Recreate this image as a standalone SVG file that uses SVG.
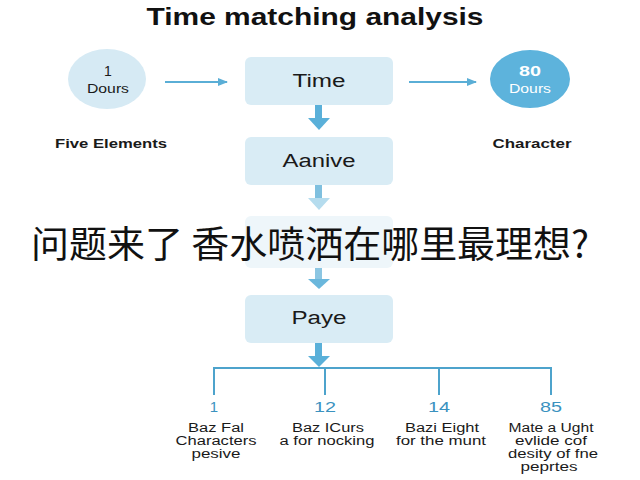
<svg xmlns="http://www.w3.org/2000/svg" width="640" height="480" viewBox="0 0 640 480">
<defs>
<style>
.box{fill:#d9ecf5;}
.lbl{font-family:"Liberation Sans",Arial,sans-serif;fill:#1a1a1a;text-anchor:middle;}
.num{font-family:"Liberation Sans",Arial,sans-serif;fill:#3a92bf;text-anchor:middle;font-size:15px;}
.desc{font-family:"Liberation Sans",Arial,sans-serif;fill:#1a1a1a;text-anchor:middle;font-size:12px;}
.line{stroke:#5aaed6;stroke-width:2;fill:none;}
.tree{stroke:#4da3cc;stroke-width:2;fill:none;}
.bar{fill:#5ab0d9;}
</style>
<marker id="ah" viewBox="0 0 10 10" refX="9" refY="5" markerWidth="5" markerHeight="5" orient="auto">
<path d="M0,1 L10,5 L0,9 z" fill="#5aaed6"/>
</marker>
</defs>
<rect width="640" height="480" fill="#ffffff"/>
<text x="315" y="25" class="lbl" font-size="24" font-weight="bold" style="fill:#111" textLength="337" lengthAdjust="spacingAndGlyphs">Time matching analysis</text>

<g id="connectors">
<line class="line" x1="165" y1="82" x2="227" y2="82" marker-end="url(#ah)"/>
<line class="line" x1="409" y1="82" x2="476" y2="82" marker-end="url(#ah)"/>
<rect class="bar" x="315" y="105" width="7" height="14"/>
<path d="M308,118 L330,118 L319,130 z" fill="#5ab0d9"/>
<rect x="315" y="185" width="7" height="13" fill="#7fc0df"/>
<path d="M308,198 L330,198 L319,210 z" fill="#b5dcee"/>
<rect x="315" y="268" width="7" height="12" fill="#8cc6e2"/>
<path d="M308,279 L330,279 L319,289 z" fill="#6ab7dc"/>
<rect class="bar" x="315" y="343" width="7" height="14"/>
<path d="M308,356 L330,356 L319,367 z" fill="#5ab0d9"/>
<path class="tree" d="M214,395 V368 H551 V395 M325,368 V395 M439,368 V395"/>
</g>

<g id="n-one">
<ellipse cx="107" cy="79" rx="39" ry="30" fill="#d6eaf4"/>
<text x="108" y="76" class="lbl" font-size="14">1</text>
<text x="108" y="93" class="lbl" font-size="12" textLength="42" lengthAdjust="spacingAndGlyphs">Dours</text>
</g>
<g id="n-eighty">
<ellipse cx="530" cy="79" rx="40" ry="29" fill="#5db3dc"/>
<text x="530" y="76" class="lbl" font-size="14" font-weight="bold" style="fill:#ffffff" textLength="22" lengthAdjust="spacingAndGlyphs">80</text>
<text x="530" y="93" class="lbl" font-size="12" style="fill:#ffffff" textLength="42" lengthAdjust="spacingAndGlyphs">Dours</text>
</g>
<g id="n-time">
<rect class="box" x="245" y="57" width="148" height="48" rx="6"/>
<text x="319" y="87" class="lbl" font-size="18" textLength="53" lengthAdjust="spacingAndGlyphs">Time</text>
</g>
<g id="l-five">
<text x="111" y="148" class="lbl" font-size="12" font-weight="bold" textLength="112" lengthAdjust="spacingAndGlyphs">Five Elements</text>
</g>
<g id="l-char">
<text x="532" y="148" class="lbl" font-size="12" font-weight="bold" textLength="79" lengthAdjust="spacingAndGlyphs">Character</text>
</g>
<g id="n-aanive">
<rect class="box" x="245" y="137" width="148" height="48" rx="6"/>
<text x="319" y="167" class="lbl" font-size="18" textLength="73" lengthAdjust="spacingAndGlyphs">Aanive</text>
</g>
<g id="n-faint">
<rect x="245" y="216" width="148" height="52" rx="6" fill="#eef6fa"/>
</g>
<g id="n-paye">
<rect class="box" x="245" y="295" width="148" height="48" rx="6"/>
<text x="319" y="324" class="lbl" font-size="18" textLength="55" lengthAdjust="spacingAndGlyphs">Paye</text>
</g>

<g id="c1">
<text x="214" y="412" class="num">1</text>
<text x="216" y="432" class="desc" textLength="56" lengthAdjust="spacingAndGlyphs">Baz Fal</text>
<text x="216" y="445" class="desc" textLength="81" lengthAdjust="spacingAndGlyphs">Characters</text>
<text x="216" y="458" class="desc" textLength="49" lengthAdjust="spacingAndGlyphs">pesive</text>
</g>
<g id="c2">
<text x="325" y="412" class="num" textLength="22" lengthAdjust="spacingAndGlyphs">12</text>
<text x="328" y="432" class="desc" textLength="72" lengthAdjust="spacingAndGlyphs">Baz ICurs</text>
<text x="327" y="445" class="desc" textLength="95" lengthAdjust="spacingAndGlyphs">a for nocking</text>
</g>
<g id="c3">
<text x="439" y="412" class="num" textLength="22" lengthAdjust="spacingAndGlyphs">14</text>
<text x="442" y="432" class="desc" textLength="74" lengthAdjust="spacingAndGlyphs">Bazi Eight</text>
<text x="441" y="445" class="desc" textLength="90" lengthAdjust="spacingAndGlyphs">for the munt</text>
</g>
<g id="c4">
<text x="551" y="412" class="num" textLength="22" lengthAdjust="spacingAndGlyphs">85</text>
<text x="551" y="432" class="desc" textLength="85" lengthAdjust="spacingAndGlyphs">Mate a Ught</text>
<text x="551" y="445" class="desc" textLength="72" lengthAdjust="spacingAndGlyphs">evlide cof</text>
<text x="553" y="458" class="desc" textLength="90" lengthAdjust="spacingAndGlyphs">desity of fne</text>
<text x="549" y="471" class="desc" textLength="57" lengthAdjust="spacingAndGlyphs">peprtes</text>
</g>

<text x="31" y="258" font-family="'Noto Sans CJK SC',sans-serif" font-size="37" fill="#111" textLength="558" lengthAdjust="spacingAndGlyphs">问题来了 香水喷洒在哪里最理想?</text>
</svg>
